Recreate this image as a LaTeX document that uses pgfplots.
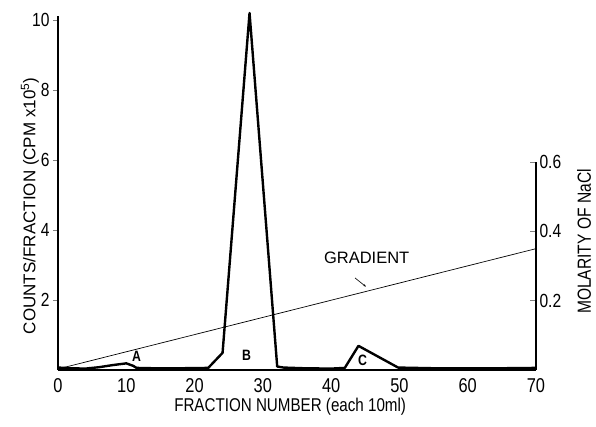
\documentclass[border=0pt]{standalone}
\usepackage{pgfplots}
\pgfplotsset{compat=1.18}
\usetikzlibrary{calc,arrows.meta}
\usepackage{fontspec}
\setmainfont{Liberation Sans}[FakeStretch=0.82]
\newfontfamily\widefont{Liberation Sans}
\begin{document}
\begin{tikzpicture}
\useasboundingbox (-58pt,-56pt) rectangle (538pt,370pt);
\begin{axis}[
  scale only axis, width=478pt, height=353.5pt,
  xmin=0, xmax=70, ymin=0, ymax=10.1,
  axis x line*=bottom, axis y line*=left,
  axis line style={line width=1.1pt,-},
  xtick={0,10,20,30,40,50,60,70},
  ytick={2,4,6,8,10},
  major tick length=5pt,
  tick align=outside,
  xtick style={draw=none},
  ytick style={line width=0.8pt},
  /pgf/number format/assume math mode=true,
  tick label style={font=\fontsize{19}{20}\selectfont},
  xticklabel style={font=\fontsize{20}{21}\selectfont},
  clip=false,
]
\addplot[line width=2.4pt, line join=round] coordinates {
 (0,0.07) (2,0.05) (4,0.04) (6,0.08) (8,0.14) (10,0.19) (11,0.12) (11.5,0.06)
 (14,0.05) (18,0.05) (22,0.06) (24.1,0.49) (28.05,10.2) (32.1,0.1) (33,0.07)
 (36,0.05) (40,0.04) (42,0.06) (44,0.69) (49.8,0.07) (55,0.05) (60,0.05)
 (65,0.05) (70,0.06)};
\node[font=\bfseries\fontsize{15}{16}\selectfont] at (axis cs:11.5,0.4) {A};
\node[font=\bfseries\fontsize{15}{16}\selectfont] at (axis cs:27.6,0.43) {B};
\node[font=\bfseries\fontsize{15}{16}\selectfont] at (axis cs:44.6,0.29) {C};
\node[font=\widefont\fontsize{16.5}{18}\selectfont] at (axis cs:45.2,3.2) {GRADIENT};
\draw[-{Stealth[length=3pt]}, line width=0.6pt] (axis cs:43.5,2.63) -- (axis cs:45.1,2.38);
\node[font=\fontsize{18.5}{20}\selectfont] at ($(axis cs:34,0)+(0,-37pt)$) {FRACTION NUMBER (each 10ml)};
\node[rotate=90, font=\widefont\fontsize{17}{20}\selectfont] at ($(axis cs:0,4.69)+(-28pt,0)$) {COUNTS/FRACTION (CPM x10\textsuperscript{5})};
\node[rotate=90, inner sep=0pt, font=\fontsize{19}{20}\selectfont] at ($(axis cs:70,3.67)+(48pt,0)$) {MOLARITY OF NaCl};
\end{axis}
\begin{axis}[
  scale only axis, width=478pt, height=208pt,
  xmin=0, xmax=70, ymin=0, ymax=0.6,
  axis x line=none, axis y line*=right,
  axis line style={line width=1.1pt,-},
  ytick={0.2,0.4,0.6}, yticklabels={0.2,0.4,0.6},
  major tick length=6pt,
  tick align=inside,
  ytick style={line width=0.8pt},
  tick label style={font=\fontsize{19}{20}\selectfont},
  clip=false,
]
\addplot[line width=0.7pt] coordinates {(0,0.003) (70,0.35)};
\end{axis}
\end{tikzpicture}
\end{document}
